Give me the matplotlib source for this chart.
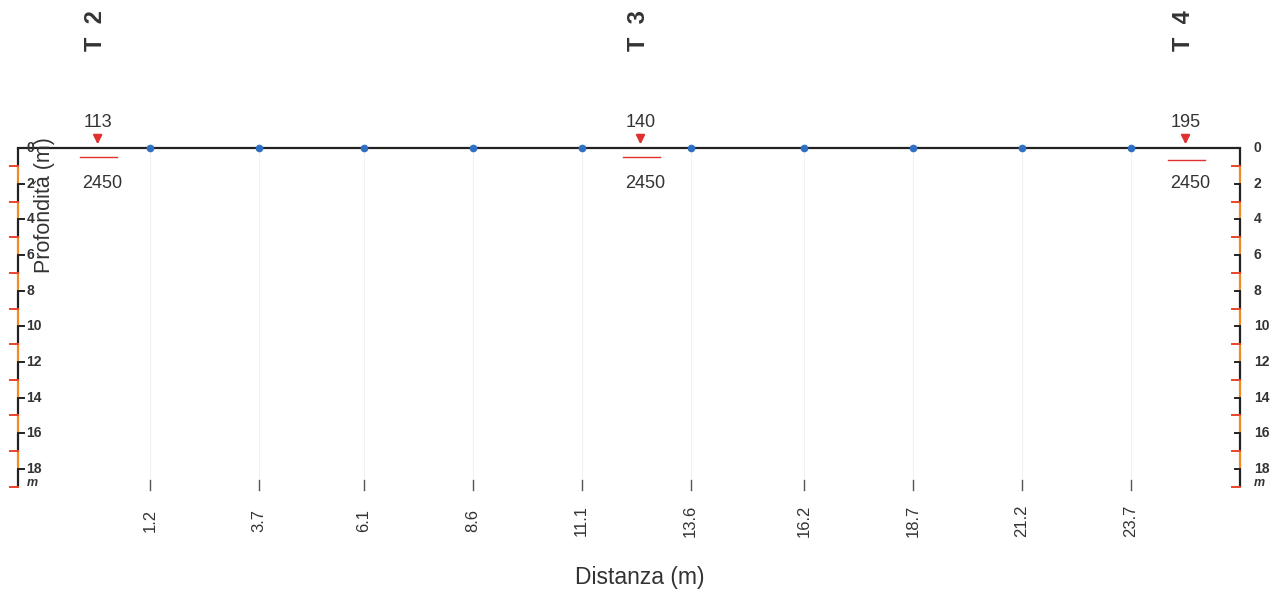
import matplotlib
matplotlib.use("Agg")
import matplotlib.pyplot as plt

plt.rcParams['font.family'] = ['Liberation Sans', 'DejaVu Sans']

# Geophone positions along the profile (m)
geophones = [1.2, 3.7, 6.1, 8.6, 11.1, 13.6, 16.2, 18.7, 21.2, 23.7]
geophone_labels = ["1.2", "3.7", "6.1", "8.6", "11.1", "13.6", "16.2", "18.7", "21.2", "23.7"]

# Shot points
shot_names = ["T 2", "T 3", "T 4"]
shot_pos = [0.0, 12.45, 24.95]
shot_top = ["113", "140", "195"]          # surface value shown above each shot
layer_vel = ["2450", "2450", "2450"]      # velocity of the first layer (m/s)
layer_depth = [0.5, 0.5, 0.7]             # depth of the refractor marker (m)

depth_ticks = [0, 2, 4, 6, 8, 10, 12, 14, 16, 18]
depth_max = 19

x_left, x_right = -1.83, 26.2

fig = plt.figure(figsize=(12.71, 5.94), dpi=100)
ax = fig.add_axes([0, 0, 1, 1])
ax.set_xlim(-2.24, 26.91)
ax.set_ylim(25.01, -8.30)
ax.axis("off")

txt = "#333333"

# faint vertical guides at geophones
for g in geophones:
    ax.plot([g, g], [0, 18.5], color="#f2f2f2", lw=0.8, zorder=0)

# surface profile
ax.plot([x_left, x_right], [0, 0], color="#222222", lw=1.6, zorder=2)
ax.plot(geophones, [0] * len(geophones), "o", color="#2f6fc4", ms=4.5, zorder=3)


def depth_axis(x, side):
    # alternating black / orange scale bar
    for z in range(depth_max):
        col = "#222222" if z % 2 == 0 else "#f08a24"
        ax.plot([x, x], [z, z + 1], color=col, lw=1.6, solid_capstyle="butt", zorder=2)
    for z in range(1, depth_max + 1, 2):
        ax.plot([x - 0.18, x], [z, z], color="#e8452a", lw=1.4, zorder=2)
    dx = 0.2 if side == "left" else 0.32
    for z in depth_ticks:
        if side == "left":
            ax.plot([x, x + 0.15], [z, z], color="#222222", lw=1.4, zorder=2)
        else:
            ax.plot([x - 0.12, x], [z, z], color="#222222", lw=1.4, zorder=2)
        ax.text(x + dx, z, str(z), fontsize=10, fontweight="bold", color=txt,
                ha="left", va="center")
    ax.text(x + dx, depth_max - 0.2, "m", fontsize=9, style="italic",
            fontweight="bold", color=txt, ha="left", va="center")


depth_axis(x_left, "left")
depth_axis(x_right, "right")

# geophone ticks and labels
for g, lab in zip(geophones, geophone_labels):
    ax.plot([g, g], [18.6, 19.2], color="#555555", lw=1.0)
    ax.text(g, 20.9, lab, rotation=90, fontsize=12, color=txt, ha="center", va="center")

# shots
for p, name, top, vel, d in zip(shot_pos, shot_names, shot_top, layer_vel, layer_depth):
    ax.text(p - 0.05, -6.6, name.replace(" ", "  "), rotation=90, fontsize=17,
            fontweight="bold", color="#333333", ha="center", va="center")
    ax.text(p, -1.45, top, fontsize=13, color=txt, ha="center", va="center")
    ax.annotate("", xy=(p, -0.05), xytext=(p, -0.75),
                arrowprops=dict(arrowstyle="-|>", color="#e03030", lw=1.5,
                                mutation_scale=13))
    ax.plot([p - 0.4, p + 0.45], [d, d], color="#e03030", lw=1.0)
    ax.text(p + 0.1, 2.0, vel, fontsize=13, color=txt, ha="center", va="center")

ax.text(12.44, 24.1, "Distanza (m)", fontsize=16.5, color=txt, ha="center", va="center")
ax.text(-1.21, 3.2, "Profondità (m)", fontsize=15.5, rotation=90, color=txt,
        ha="center", va="center")

fig.savefig("out.png", dpi=100)
